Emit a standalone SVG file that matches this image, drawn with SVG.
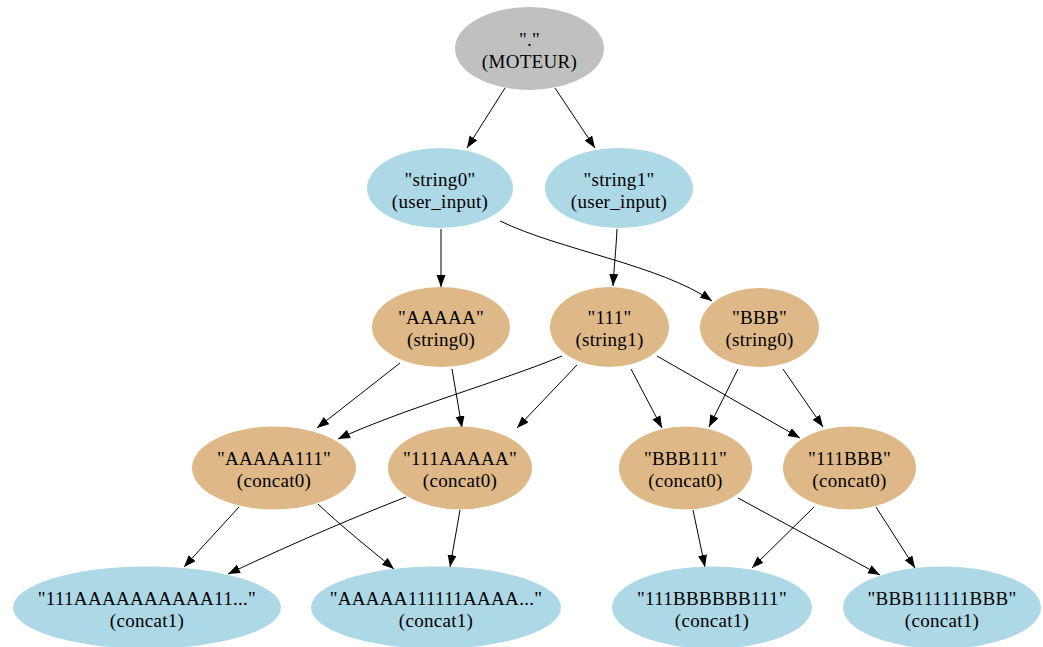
<svg xmlns="http://www.w3.org/2000/svg" width="1043" height="647" viewBox="0 0 1043 647">
<style>
text{font-family:"Liberation Serif","Times New Roman",serif;font-size:19px;fill:#000;text-anchor:middle;letter-spacing:0.3px}
.grey{fill:#c0c0c0}
.blue{fill:#add8e6}
.tan{fill:#deb887}
.edge{fill:none;stroke:#000;stroke-width:1;marker-end:url(#arr)}
</style>
<defs>
<marker id="arr" markerUnits="userSpaceOnUse" markerWidth="13" markerHeight="10" refX="12" refY="4.5" orient="auto">
<path d="M0,0 L12,4.5 L0,9 z" fill="#000"/>
</marker>
</defs>
<rect width="1043" height="647" fill="#fff"/>
<g id="edges">
<path class="edge" d="M505,88 L467,148"/>
<path class="edge" d="M555,88 L595,148"/>
<path class="edge" d="M441,229 L441,287"/>
<path class="edge" d="M617,229 C616,250 614,268 613,286"/>
<path class="edge" d="M500,221 C560,250 660,265 712,301"/>
<path class="edge" d="M400,363 L317,428"/>
<path class="edge" d="M452,369 L462,428"/>
<path class="edge" d="M562,356 C505,380 400,410 338,439"/>
<path class="edge" d="M577,365 L517,428"/>
<path class="edge" d="M631,369 L662,428"/>
<path class="edge" d="M657,356 L800,438"/>
<path class="edge" d="M738,369 L709,427"/>
<path class="edge" d="M783,369 L823,427"/>
<path class="edge" d="M239,507 L184,567"/>
<path class="edge" d="M318,504 C340,525 365,545 394,569"/>
<path class="edge" d="M406,497 C360,515 300,540 228,574"/>
<path class="edge" d="M460,510 L450,567"/>
<path class="edge" d="M693,510 L705,567"/>
<path class="edge" d="M738,498 L880,575"/>
<path class="edge" d="M814,507 L752,568"/>
<path class="edge" d="M876,507 L915,568"/>
</g>
<g id="root"><ellipse class="grey" cx="529.5" cy="48.5" rx="74.5" ry="41.5"/><text x="529.5" y="46">"."</text><text x="529.5" y="68">(MOTEUR)</text></g>
<g id="string0"><ellipse class="blue" cx="440" cy="188" rx="73" ry="40"/><text x="440" y="186">"string0"</text><text x="440" y="208">(user_input)</text></g>
<g id="string1"><ellipse class="blue" cx="619" cy="188" rx="74" ry="40"/><text x="619" y="186">"string1"</text><text x="619" y="208">(user_input)</text></g>
<g id="AAAAA"><ellipse class="tan" cx="441" cy="327" rx="69" ry="40"/><text x="441" y="324">"AAAAA"</text><text x="441" y="346">(string0)</text></g>
<g id="n111"><ellipse class="tan" cx="609.5" cy="327" rx="59.5" ry="40"/><text x="609.5" y="324">"111"</text><text x="609.5" y="346">(string1)</text></g>
<g id="BBB"><ellipse class="tan" cx="759.5" cy="327.5" rx="59.5" ry="39.5"/><text x="759.5" y="324">"BBB"</text><text x="759.5" y="346">(string0)</text></g>
<g id="AAAAA111"><ellipse class="tan" cx="274" cy="468" rx="82" ry="41.5"/><text x="274" y="465">"AAAAA111"</text><text x="274" y="487">(concat0)</text></g>
<g id="n111AAAAA"><ellipse class="tan" cx="460" cy="468" rx="72" ry="41.5"/><text x="460" y="465">"111AAAAA"</text><text x="460" y="487">(concat0)</text></g>
<g id="BBB111"><ellipse class="tan" cx="685.5" cy="468" rx="66.5" ry="41.5"/><text x="685.5" y="465">"BBB111"</text><text x="685.5" y="487">(concat0)</text></g>
<g id="n111BBB"><ellipse class="tan" cx="849.5" cy="468" rx="66.5" ry="41.5"/><text x="849.5" y="465">"111BBB"</text><text x="849.5" y="487">(concat0)</text></g>
<g id="c1a"><ellipse class="blue" cx="147" cy="607.5" rx="134" ry="41"/><text x="147" y="605">"111AAAAAAAAAA11..."</text><text x="147" y="627">(concat1)</text></g>
<g id="c1b"><ellipse class="blue" cx="436" cy="607.5" rx="125" ry="41"/><text x="436" y="605">"AAAAA111111AAAA..."</text><text x="436" y="627">(concat1)</text></g>
<g id="c1c"><ellipse class="blue" cx="712" cy="607.5" rx="100" ry="41"/><text x="712" y="605">"111BBBBBB111"</text><text x="712" y="627">(concat1)</text></g>
<g id="c1d"><ellipse class="blue" cx="942" cy="607.5" rx="99" ry="41"/><text x="942" y="605">"BBB111111BBB"</text><text x="942" y="627">(concat1)</text></g>
</svg>
